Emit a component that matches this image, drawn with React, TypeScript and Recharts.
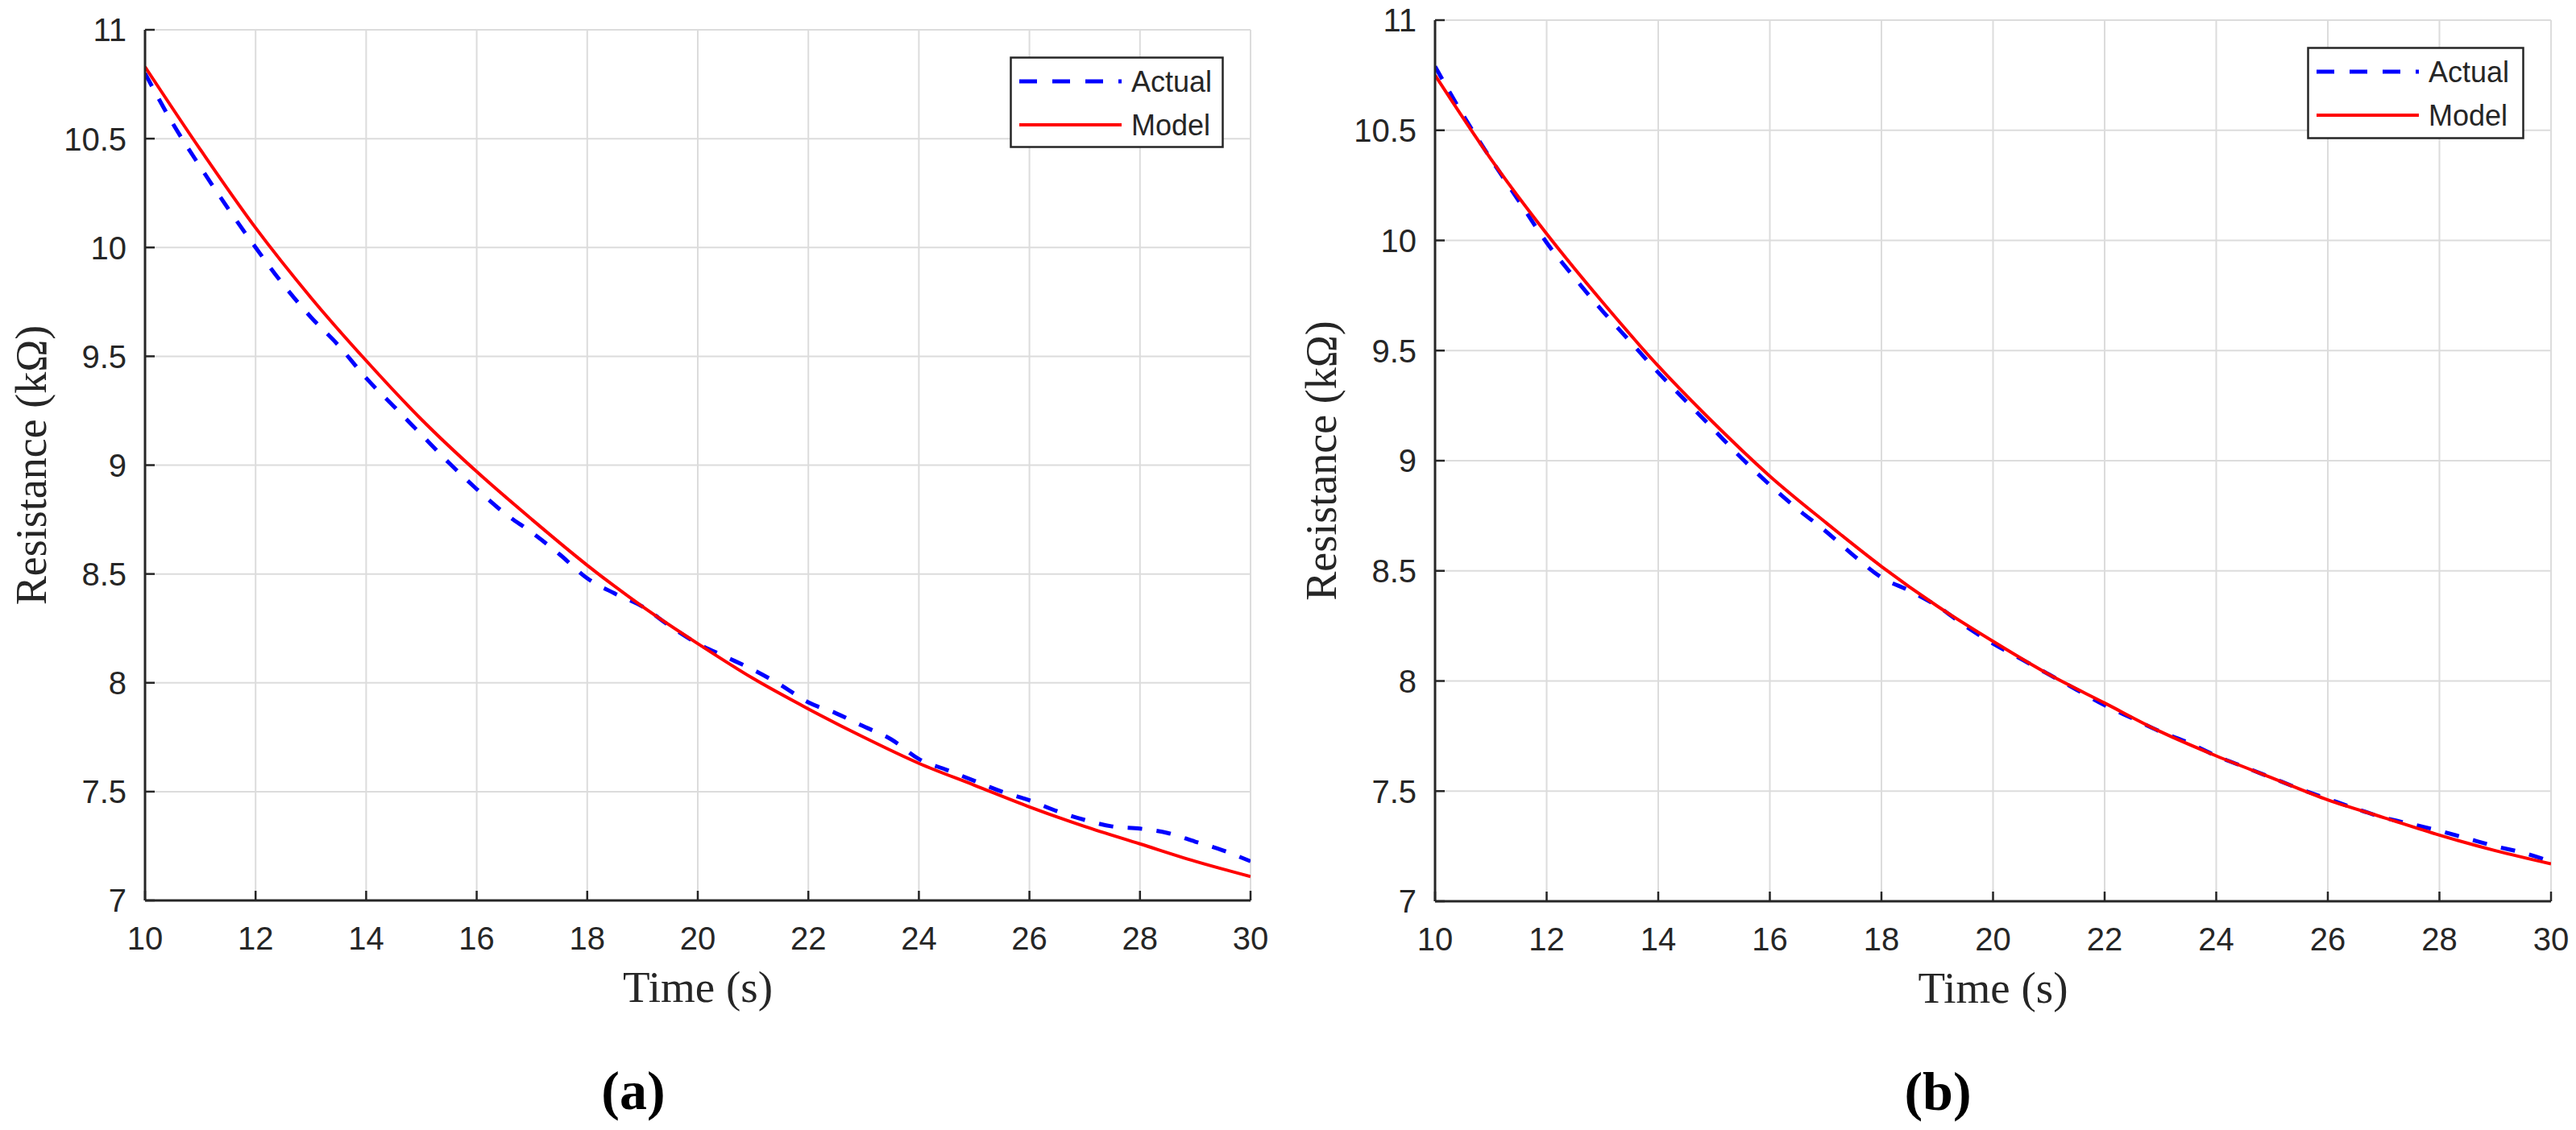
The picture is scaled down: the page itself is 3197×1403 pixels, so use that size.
import React from 'react';
import { LineChart, Line, XAxis, YAxis, CartesianGrid, Legend, Label } from 'recharts';

// time axes (s)
const timeModel = [10, 11, 12, 13, 14, 15, 16, 17, 18, 19, 20, 21, 22, 23, 24, 25, 26, 27, 28, 29, 30];
const timeActual = [
  10, 10.5, 11, 11.5, 12, 12.5, 13, 13.5, 14, 14.5, 15, 15.5, 16, 16.5, 17, 17.5, 18, 18.5, 19, 19.5, 20,
  20.5, 21, 21.5, 22, 22.5, 23, 23.5, 24, 24.5, 25, 25.5, 26, 26.5, 27, 27.5, 28, 28.5, 29, 29.5, 30,
];

// panel (a)
const actualA = [
  10.8, 10.57, 10.37, 10.18, 10.0, 9.83, 9.68, 9.55, 9.4, 9.27, 9.14, 9.01, 8.89, 8.78, 8.69, 8.59, 8.48, 8.41, 8.35, 8.26, 8.18,
  8.12, 8.06, 7.99, 7.91, 7.86, 7.8, 7.74, 7.65, 7.6, 7.55, 7.5, 7.46, 7.41, 7.37, 7.34, 7.33, 7.31, 7.27, 7.23, 7.18,
];
const modelA = [10.83, 10.45, 10.09, 9.77, 9.48, 9.21, 8.97, 8.75, 8.54, 8.35, 8.18, 8.02, 7.88, 7.75, 7.63, 7.53, 7.43, 7.34, 7.26, 7.18, 7.11];

// panel (b)
const actualB = [
  10.79, 10.57, 10.37, 10.18, 9.99, 9.83, 9.68, 9.54, 9.4, 9.27, 9.14, 9.01, 8.89, 8.78, 8.68, 8.57, 8.47, 8.41, 8.34, 8.25, 8.17,
  8.1, 8.03, 7.96, 7.89, 7.83, 7.77, 7.72, 7.66, 7.61, 7.56, 7.51, 7.465, 7.42, 7.38, 7.35, 7.32, 7.285, 7.25, 7.22, 7.18,
];
const modelB = [10.75, 10.37, 10.03, 9.72, 9.43, 9.17, 8.93, 8.72, 8.52, 8.34, 8.18, 8.03, 7.9, 7.77, 7.66, 7.56, 7.46, 7.38, 7.3, 7.23, 7.17];

const xTicks = [10, 12, 14, 16, 18, 20, 22, 24, 26, 28, 30];
const yTicks = [7, 7.5, 8, 8.5, 9, 9.5, 10, 10.5, 11];
const seriesNames = ['Actual', 'Model'];
const yTitle = 'Resistance (kΩ)';
const xTitle = 'Time (s)';

const AXIS = '#262626';
const GRID = '#dcdcdc';
const SANS = '"Liberation Sans", Arial, sans-serif';
const SERIF = '"Liberation Serif", "Times New Roman", serif';

const toRows = (xs: number[], ys: number[]) => xs.map((t, i) => ({ t, r: ys[i] }));

const XTick = (p: any) => {
  const top = p.y - 32;
  return (
    <g>
      <line x1={p.x} x2={p.x} y1={top} y2={top - 12} stroke={AXIS} strokeWidth={2.5} />
      <text x={p.x} y={p.y} dy="0.72em" textAnchor="middle" fill={AXIS} fontFamily={SANS} fontSize={40}>
        {p.payload.value}
      </text>
    </g>
  );
};

const YTick = (p: any) => {
  const ax = p.x + 23;
  return (
    <g>
      <line x1={ax} x2={ax + 12} y1={p.y} y2={p.y} stroke={AXIS} strokeWidth={2.5} />
      <text x={p.x} y={p.y} dy="0.36em" textAnchor="end" fill={AXIS} fontFamily={SANS} fontSize={40}>
        {p.payload.value}
      </text>
    </g>
  );
};

function LegendBox({ w, h }: { w: number; h: number }) {
  return (
    <svg width={w} height={h} style={{ display: 'block' }}>
      <rect x={1.5} y={1.5} width={w - 3} height={h - 3} fill="#fff" stroke={AXIS} strokeWidth={2.5} />
      <line x1={12} x2={139} y1={31} y2={31} stroke="#0000ff" strokeWidth={5} strokeDasharray="22 19" />
      <text x={151} y={44} fill={AXIS} fontFamily={SANS} fontSize={36}>{seriesNames[0]}</text>
      <line x1={12} x2={139} y1={85} y2={85} stroke="#ff0000" strokeWidth={4} />
      <text x={151} y={98} fill={AXIS} fontFamily={SANS} fontSize={36}>{seriesNames[1]}</text>
    </svg>
  );
}

interface PanelProps {
  actual: number[];
  model: number[];
  tag: string;
  width: number;
  top: number;
  right: number;
  yAxisWidth: number;
  legend: { left: number; top: number; w: number; h: number };
  tagX: number;
}

function Panel({ actual, model, tag, width, top, right, yAxisWidth, legend, tagX }: PanelProps) {
  const height = 1403;
  const xAxisHeight = 100;
  const bottomPlot = top === 37 ? 1118 : 1119;
  return (
    <LineChart
      width={width}
      height={height}
      margin={{ top, right, left: 0, bottom: height - bottomPlot - xAxisHeight }}
    >
      <CartesianGrid stroke={GRID} strokeWidth={2} />
      <XAxis
        type="number"
        dataKey="t"
        domain={[10, 30]}
        ticks={xTicks}
        allowDataOverflow
        height={xAxisHeight}
        axisLine={{ stroke: AXIS, strokeWidth: 3 }}
        tickLine={false}
        tickSize={0}
        tickMargin={32}
        tick={(p: any) => <XTick {...p} />}
      >
        <Label
          content={(lp: any) => {
            const vb = lp.viewBox;
            const cx = vb.x + vb.width / 2;
            return (
              <g>
                <text x={cx} y={vb.y + 126} textAnchor="middle" fill={AXIS} fontFamily={SERIF} fontSize={55}>
                  {xTitle}
                </text>
                <text x={tagX} y={vb.y + 259} textAnchor="middle" fill="#000" fontFamily={SERIF} fontWeight="bold" fontSize={68}>
                  {tag}
                </text>
              </g>
            );
          }}
        />
      </XAxis>
      <YAxis
        type="number"
        domain={[7, 11]}
        ticks={yTicks}
        allowDataOverflow
        width={yAxisWidth}
        axisLine={{ stroke: AXIS, strokeWidth: 3 }}
        tickLine={false}
        tickSize={0}
        tickMargin={23}
        tick={(p: any) => <YTick {...p} />}
      >
        <Label
          content={(lp: any) => {
            const vb = lp.viewBox;
            const cx = vb.x + yAxisWidth - 141;
            const cy = vb.y + vb.height / 2;
            return (
              <text
                x={cx}
                y={cy}
                transform={`rotate(-90 ${cx} ${cy})`}
                textAnchor="middle"
                dominantBaseline="central"
                fill={AXIS}
                fontFamily={SERIF}
                fontSize={54}
              >
                {yTitle}
              </text>
            );
          }}
        />
      </YAxis>
      <Legend
        layout="vertical"
        align="center"
        verticalAlign="middle"
        wrapperStyle={{ left: legend.left, top: legend.top, width: legend.w, height: legend.h }}
        content={() => <LegendBox w={legend.w} h={legend.h} />}
      />
      <Line
        data={toRows(timeActual, actual)}
        dataKey="r"
        name={seriesNames[0]}
        type="monotone"
        stroke="#0000ff"
        strokeWidth={5}
        strokeDasharray="18 18"
        dot={false}
        activeDot={false}
        isAnimationActive={false}
      />
      <Line
        data={toRows(timeModel, model)}
        dataKey="r"
        name={seriesNames[1]}
        type="monotone"
        stroke="#ff0000"
        strokeWidth={4}
        dot={false}
        activeDot={false}
        isAnimationActive={false}
      />
    </LineChart>
  );
}

export default function App() {
  return (
    <div style={{ position: 'absolute', left: 0, top: 0, width: 3197, height: 1403, background: '#fff' }}>
      <div style={{ position: 'absolute', left: 0, top: 0 }}>
        <Panel
          actual={actualA}
          model={modelA}
          tag="(a)"
          width={1600}
          top={37}
          right={48}
          yAxisWidth={180}
          legend={{ left: 1253, top: 70, w: 266, h: 114 }}
          tagX={786}
        />
      </div>
      <div style={{ position: 'absolute', left: 1600, top: 0 }}>
        <Panel
          actual={actualB}
          model={modelB}
          tag="(b)"
          width={1597}
          top={25}
          right={31}
          yAxisWidth={181}
          legend={{ left: 1263, top: 58, w: 270, h: 115 }}
          tagX={805}
        />
      </div>
    </div>
  );
}
